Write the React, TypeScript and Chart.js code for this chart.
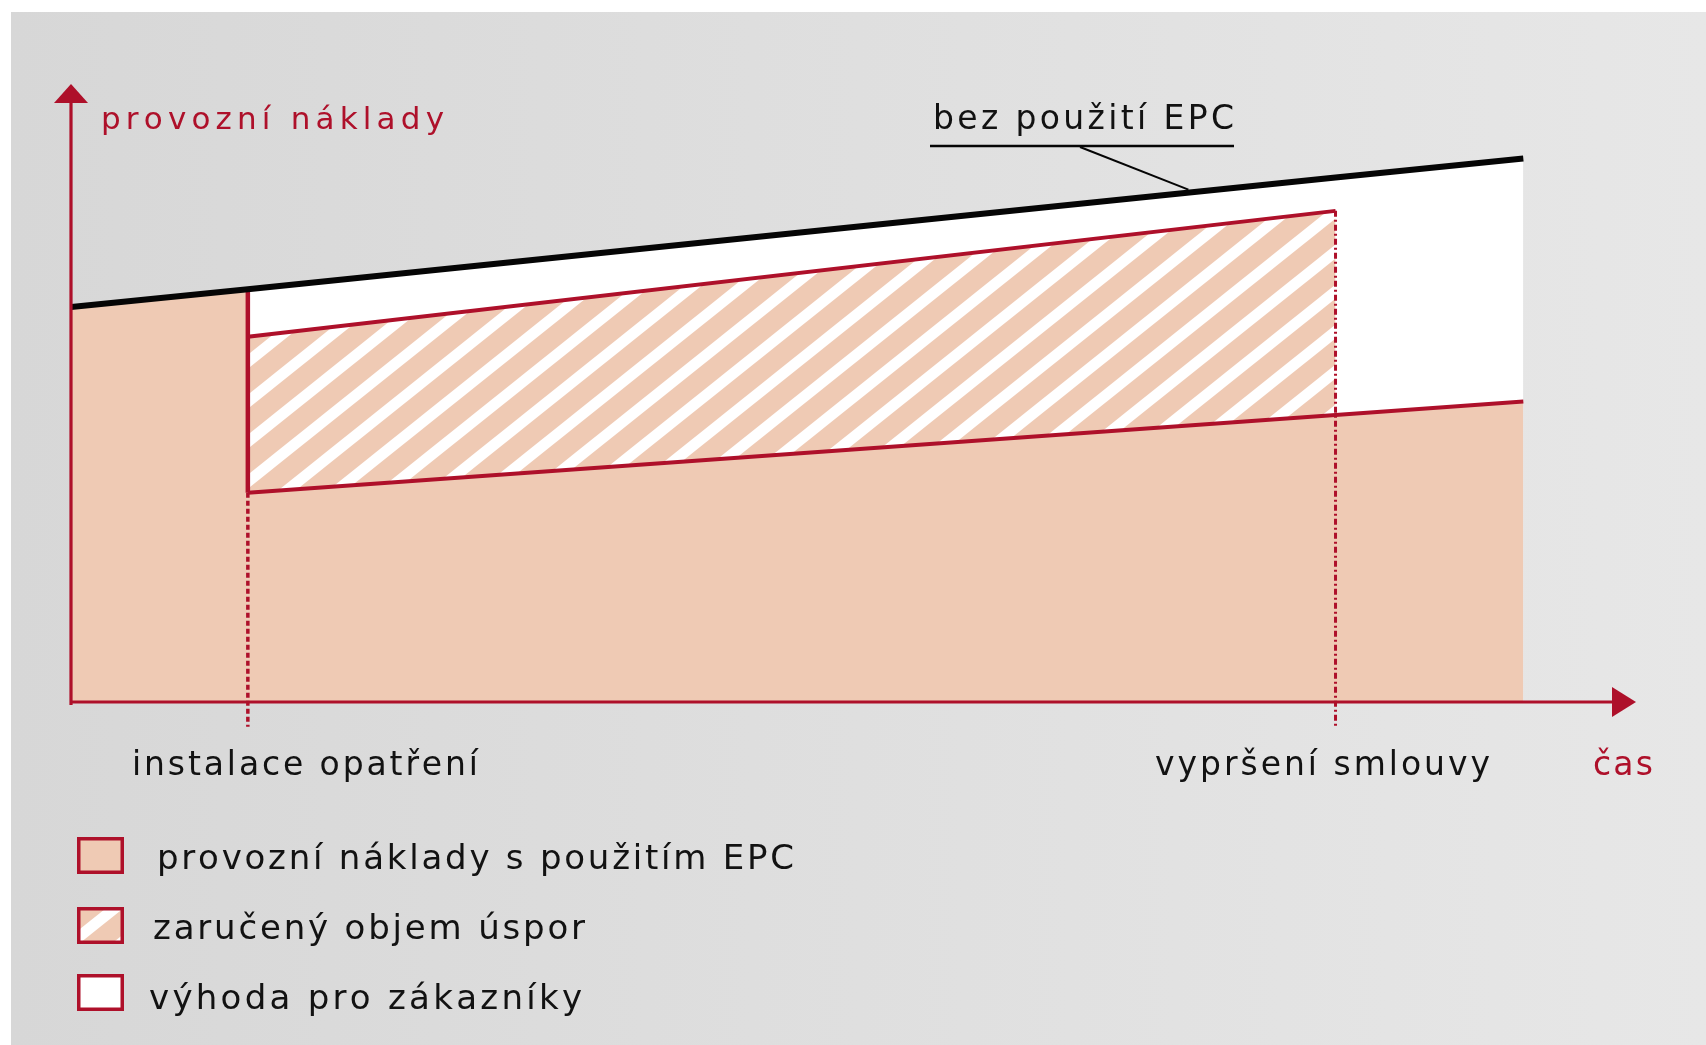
import React, { useEffect, useRef } from "react";
import { Chart, registerables } from "chart.js";

Chart.register(...registerables);

// ---- data (conceptual time axis 0..100, cost axis 0..100) ----
const timePoints = [0, 11.3, 80.8, 92.8]; // start, installation, contract expiry, end
const costWithoutEpc = [64.0, 66.9, 85.0, 88.1]; // "bez použití EPC"
const guaranteedCost = [null, 59.2, 79.6, null]; // top of guaranteed savings
const costWithEpc = [null, 33.9, 46.5, 48.7]; // "provozní náklady s použitím EPC"
const markerBottom = -4.0; // dotted markers run slightly below the time axis
const leaderTime = 71.4;

const axisTitleY = "provozní náklady";
const axisTitleX = "čas";
const lineLabel = "bez použití EPC";
const eventLabels = ["instalace opatření", "vypršení smlouvy"];
const legendLabels = [
  "provozní náklady s použitím EPC",
  "zaručený objem úspor",
  "výhoda pro zákazníky",
];

// ---- styles ----
const W = 1706;
const H = 1045;
const RED = "#AE102A";
const BEIGE = "#EFCAB4";
const BLACK = "#050505";
const TEXT = "#121212";
const FONT = '"DejaVu Sans", "Verdana", sans-serif';

function pts(xs: number[], ys: (number | null)[]) {
  const out: { x: number; y: number }[] = [];
  xs.forEach((x, i) => {
    const y = ys[i];
    if (y !== null && y !== undefined) out.push({ x, y });
  });
  return out;
}

function interp(xs: number[], ys: number[], x: number) {
  for (let i = 0; i < xs.length - 1; i++) {
    if (x >= xs[i] && x <= xs[i + 1]) {
      const t = (x - xs[i]) / (xs[i + 1] - xs[i]);
      return ys[i] + t * (ys[i + 1] - ys[i]);
    }
  }
  return ys[ys.length - 1];
}

function makeHatch(): CanvasPattern | string {
  const c = document.createElement("canvas");
  c.width = 50;
  c.height = 40;
  const g = c.getContext("2d");
  if (!g) return BEIGE;
  g.fillStyle = BEIGE;
  g.fillRect(0, 0, 50, 40);
  g.strokeStyle = "#ffffff";
  g.lineWidth = 11;
  for (const dx of [-50, 0, 50]) {
    g.beginPath();
    g.moveTo(dx - 50, 80);
    g.lineTo(dx + 100, -40);
    g.stroke();
  }
  return g.createPattern(c, "repeat") || BEIGE;
}

function drawSpaced(
  ctx: CanvasRenderingContext2D,
  text: string,
  x: number,
  y: number,
  width: number,
  size: number,
  color: string
) {
  ctx.font = `${size}px ${FONT}`;
  ctx.fillStyle = color;
  ctx.textBaseline = "alphabetic";
  ctx.textAlign = "left";
  const chars = Array.from(text);
  const widths = chars.map((c) => ctx.measureText(c).width);
  const total = widths.reduce((a, b) => a + b, 0);
  const ls = chars.length > 1 ? (width - total) / (chars.length - 1) : 0;
  let cx = x;
  chars.forEach((c, i) => {
    ctx.fillText(c, cx, y);
    cx += widths[i] + ls;
  });
}

export default function App() {
  const ref = useRef<HTMLCanvasElement | null>(null);

  useEffect(() => {
    const canvas = ref.current;
    if (!canvas) return;
    document.body.style.margin = "0";
    const hatch = makeHatch();

    const tInstall = timePoints[1];
    const tExpiry = timePoints[2];

    const background = {
      id: "background",
      beforeDraw(chart: any) {
        const ctx = chart.ctx;
        ctx.save();
        ctx.fillStyle = "#ffffff";
        ctx.fillRect(0, 0, W, H);
        const grad = ctx.createLinearGradient(11, 0, W, 0);
        grad.addColorStop(0, "#d7d7d7");
        grad.addColorStop(1, "#e7e7e7");
        ctx.fillStyle = grad;
        ctx.fillRect(11, 12, W - 11, H - 12);
        ctx.restore();
      },
    };

    const axes = {
      id: "axes",
      afterDatasetsDraw(chart: any) {
        const ctx = chart.ctx;
        const xs = chart.scales.x;
        const ys = chart.scales.y;
        const x0 = xs.getPixelForValue(0);
        const y0 = ys.getPixelForValue(0);
        const yTop = ys.getPixelForValue(100);
        const xEnd = xs.getPixelForValue(100);
        ctx.save();
        ctx.strokeStyle = RED;
        ctx.fillStyle = RED;
        ctx.lineWidth = 3.2;
        ctx.beginPath();
        ctx.moveTo(x0, y0 + 3);
        ctx.lineTo(x0, yTop + 14);
        ctx.moveTo(x0 - 1.5, y0);
        ctx.lineTo(xEnd - 20, y0);
        ctx.stroke();
        // arrow heads
        ctx.beginPath();
        ctx.moveTo(x0, yTop - 1);
        ctx.lineTo(x0 + 17, yTop + 18);
        ctx.lineTo(x0 - 17, yTop + 18);
        ctx.closePath();
        ctx.fill();
        ctx.beginPath();
        ctx.moveTo(xEnd, y0);
        ctx.lineTo(xEnd - 24, y0 - 15);
        ctx.lineTo(xEnd - 24, y0 + 15);
        ctx.closePath();
        ctx.fill();
        ctx.restore();
      },
    };

    const annotations = {
      id: "annotations",
      afterDraw(chart: any) {
        const ctx = chart.ctx;
        const xs = chart.scales.x;
        const ys = chart.scales.y;
        ctx.save();
        drawSpaced(ctx, axisTitleY, 101, 129, 343, 31, RED);
        drawSpaced(ctx, lineLabel, 933, 129, 301, 33, TEXT);
        // underline + leader to the line
        ctx.strokeStyle = BLACK;
        ctx.lineWidth = 2.5;
        ctx.beginPath();
        ctx.moveTo(930, 146);
        ctx.lineTo(1234, 146);
        ctx.stroke();
        const lx = xs.getPixelForValue(leaderTime);
        const ly = ys.getPixelForValue(
          interp(timePoints, costWithoutEpc, leaderTime)
        );
        ctx.lineWidth = 2;
        ctx.beginPath();
        ctx.moveTo(1080, 147);
        ctx.lineTo(lx, ly - 3);
        ctx.stroke();

        drawSpaced(ctx, eventLabels[0], 132, 775, 346, 33, TEXT);
        drawSpaced(ctx, eventLabels[1], 1155, 775, 335, 33, TEXT);
        drawSpaced(ctx, axisTitleX, 1593, 775, 60, 33, RED);

        // legend
        const fills: (string | CanvasPattern)[] = [BEIGE, hatch, "#ffffff"];
        const boxTop = [837, 907, 974];
        const textX = [157, 153, 149];
        const textBase = [869, 939, 1009];
        const textW = [637, 432, 433];
        legendLabels.forEach((lab, i) => {
          ctx.fillStyle = fills[i];
          ctx.fillRect(77, boxTop[i], 47, 37);
          ctx.strokeStyle = RED;
          ctx.lineWidth = 3.5;
          ctx.strokeRect(78.75, boxTop[i] + 1.75, 43.5, 33.5);
          drawSpaced(ctx, lab, textX[i], textBase[i], textW[i], 34, TEXT);
        });
        ctx.restore();
      },
    };

    const blackPts = pts(timePoints, costWithoutEpc);
    const chart = new Chart(canvas, {
      type: "line",
      data: {
        datasets: [
          {
            label: lineLabel,
            data: blackPts,
            borderColor: BLACK,
            borderWidth: 6,
            fill: false,
            pointRadius: 0,
          },
          {
            label: "instalace",
            data: [
              { x: tInstall, y: costWithoutEpc[1] },
              { x: tInstall, y: costWithEpc[1] as number },
            ],
            borderColor: RED,
            borderWidth: 4.5,
            fill: false,
            pointRadius: 0,
          },
          {
            label: "instalace-marker",
            data: [
              { x: tInstall, y: costWithEpc[1] as number },
              { x: tInstall, y: markerBottom },
            ],
            borderColor: RED,
            borderWidth: 3.5,
            borderDash: [5, 3],
            fill: false,
            pointRadius: 0,
            clip: false,
          },
          {
            label: "vyprseni-marker",
            data: [
              { x: tExpiry, y: guaranteedCost[2] as number },
              { x: tExpiry, y: markerBottom },
            ],
            borderColor: RED,
            borderWidth: 3,
            borderDash: [6, 3, 2, 3],
            fill: false,
            pointRadius: 0,
            clip: false,
          },
          {
            label: legendLabels[0],
            data: pts(timePoints, costWithEpc),
            borderColor: RED,
            borderWidth: 4,
            backgroundColor: BEIGE,
            fill: "origin",
            pointRadius: 0,
          },
          {
            label: legendLabels[1],
            data: pts(timePoints, guaranteedCost),
            borderColor: RED,
            borderWidth: 4,
            backgroundColor: hatch as any,
            fill: "origin",
            pointRadius: 0,
          },
          {
            label: legendLabels[2],
            data: blackPts.slice(1),
            borderWidth: 0,
            borderColor: "rgba(0,0,0,0)",
            backgroundColor: "#ffffff",
            fill: "origin",
            pointRadius: 0,
          },
          {
            label: "pred instalaci",
            data: blackPts.slice(0, 2),
            borderWidth: 0,
            borderColor: "rgba(0,0,0,0)",
            backgroundColor: BEIGE,
            fill: "origin",
            pointRadius: 0,
          },
        ],
      },
      options: {
        responsive: false,
        animation: false,
        devicePixelRatio: 1,
        layout: { padding: { left: 71, right: 70, top: 85, bottom: 343 } },
        scales: {
          x: { type: "linear", min: 0, max: 100, display: false },
          y: { type: "linear", min: 0, max: 100, display: false },
        },
        plugins: {
          legend: { display: false },
          tooltip: { enabled: false },
          title: { display: false },
        },
        elements: { line: { tension: 0 } },
      } as any,
      plugins: [background, axes, annotations],
    });
    return () => chart.destroy();
  }, []);

  return (
    <div style={{ position: "fixed", left: 0, top: 0, width: W, height: H }}>
      <canvas ref={ref} width={W} height={H} style={{ display: "block" }} />
    </div>
  );
}
